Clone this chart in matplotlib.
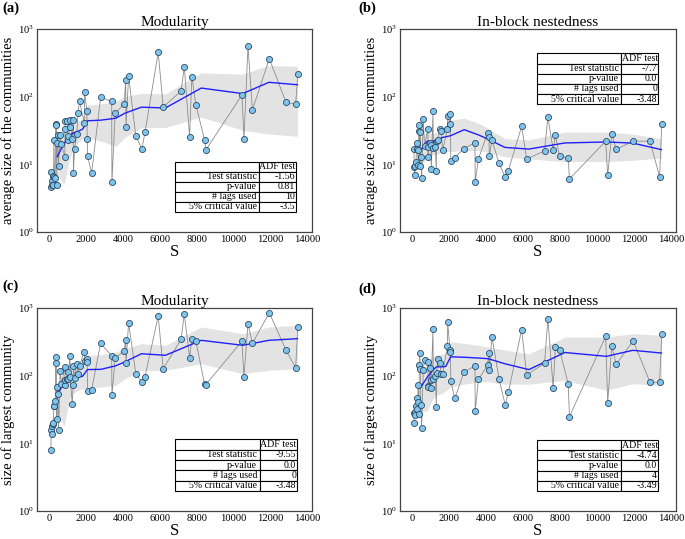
import matplotlib
matplotlib.use("Agg")
import matplotlib.pyplot as plt
from matplotlib.ticker import NullLocator, FixedLocator

plt.rcParams['font.family'] = ['Liberation Serif', 'DejaVu Serif']
plt.rcParams['mathtext.fontset'] = 'stix'

# ---- data: network size S and the four quantities ----
S = [70, 95, 115, 140, 190, 215, 236, 270, 310, 345, 365, 395, 420, 450, 490, 580, 650,
     834, 840, 853, 961, 980, 1016, 1107, 1125, 1234, 1288, 1300, 1360, 1488, 1542, 1633,
     1887, 1905, 2030, 2050, 2070, 2290, 2780, 3380, 3395, 3570, 4060, 4140, 4160, 4300,
     4690, 5020, 5190, 5910, 6180, 7150, 7330, 7615, 7740, 7960, 8430, 8500, 10460, 10570,
     10790, 11030, 11950, 12860, 13380, 13500]

avg_mod = [7.7, 4.7, 5.6, 5.0, 6.8, 4.9, 23, 6.5, 6.3, 40, 38.6, 4.9, 21, 27.4, 9.4, 27, 20,
           12.7, 33, 43.6, 43.6, 23, 26, 35.6, 44.6, 24, 45, 7.4, 17, 28, 58, 85,
           41, 119, 62, 23.4, 13.1, 7.45, 98, 85, 5.5, 57, 78, 178, 35.6, 202,
           26.5, 16.7, 29.7, 452, 70, 121, 277, 25.6, 198, 75, 23, 16.3, 106, 23.7,
           561, 63.5, 365, 82, 77, 214]

avg_nest = [16.9, 9.0, 7.0, 9.5, 10.7, 20.6, 17, 16.5, 9.8, 38.5, 30.8, 9.4, 30, 12.7, 6.2, 46.7, 18.5,
            33.7, 13, 18, 21, 19, 8.5, 60.7, 17.4, 18.2, 8.1, 22, 23, 33, 31, 16.1,
            33.7, 51, 40, 55, 11.3, 12.6, 17, 21, 5.5, 12.1, 29, 25.5, 13.5, 22.6,
            10.3, 6.4, 8.1, 36.5, 12, 15.8, 50, 16.5, 26.8, 13.2, 12.4, 6.1, 22, 6.9,
            28, 16.7, 22, 22, 6.6, 39.5]

max_mod = [7.9, 15.9, 17.8, 13.9, 19.5, 20, 36, 36, 42, 191, 155, 23, 68, 53, 16, 117, 75,
           133, 72, 85, 90, 113, 88, 198, 95, 38, 72, 137, 92, 150, 107, 140,
           224, 165, 176, 160, 59, 62, 300, 197, 51, 182, 231, 341, 153, 608,
           107, 80, 96.5, 759, 127, 344, 810, 184, 352, 320, 75, 74, 324, 96,
           584, 300, 850, 237, 131, 525]

max_nest = [20, 27.7, 29, 26, 36, 32, 47, 41, 74, 27, 145, 216, 125, 37, 17, 121, 170,
            160, 70, 68, 128, 65, 85, 495, 90, 100, 34, 110, 175, 155, 105, 107,
            271, 614, 236, 224, 82, 46, 112, 140, 30, 88, 142, 216, 121, 377,
            88, 37, 57, 479, 103, 152, 695, 66, 268, 242, 76, 24.8, 381, 40,
            277, 147, 329, 80, 80, 418]

# ---- rolling mean and band ----
roll_S = [420, 800, 1090, 1290, 1630, 1800, 2060, 2800, 3600, 4100, 5000, 6300, 8250, 10500, 11930, 13480]

mean_avg_mod = [13, 20.5, 26.6, 29, 31.5, 33, 44, 45, 48, 57, 70, 68, 134, 111, 163, 150]
up_avg_mod = [24, 32, 38, 42, 45, 47, 75, 78, 85, 100, 112, 110, 225, 215, 290, 280]
lo_avg_mod = [7, 5, 12, 17, 22, 24, 25, 22, 18.5, 25, 35, 35, 50, 32, 28, 26]

mean_avg_nest = [16, 22, 22, 22.5, 25, 25.5, 26.5, 32.5, 27, 23.5, 17.8, 16.8, 20.7, 21.4, 20.6, 16.5]
up_avg_nest = [25, 30, 28, 30, 35, 38, 45, 48, 40, 34, 24, 23, 30, 30, 28, 24]
lo_avg_nest = [9, 13, 14, 14, 15, 15.5, 15.5, 16, 16, 15, 13, 12, 11, 11, 11.5, 12.4]

mean_max_mod = [52, 79, 85, 90, 96, 98, 123, 124, 140, 160, 211, 200, 333, 281, 333, 352]
up_max_mod = [76, 105, 120, 130, 140, 150, 200, 205, 224, 250, 297, 281, 524, 417, 524, 555]
lo_max_mod = [28, 18, 45, 55, 62, 65, 64, 68, 72, 90, 120, 120, 150, 107, 120, 127]

mean_max_nest = [66, 95, 120, 135, 135, 137, 190, 187, 182, 178, 150, 123, 220, 193, 237, 216]
up_max_nest = [110, 150, 190, 200, 210, 220, 315, 300, 280, 264, 240, 210, 371, 371, 418, 395]
lo_max_nest = [30, 30, 45, 51, 55, 60, 68, 75, 80, 81, 75, 75, 85, 61, 76, 72]

# ---- ADF tables ----
row_labels = ['Test statistic', 'p-value', '# lags used', '5% critical value']
adf_a = ['-1.56', '0.81', '10', '-3.5']
adf_b = ['-7.7', '0.0', '0', '-3.48']
adf_c = ['-9.55', '0.0', '0', '-3.48']
adf_d = ['-4.74', '0.0', '4', '-3.49']

titles = ['Modularity', 'In-block nestedness', 'Modularity', 'In-block nestedness']
ylabels = ['average size of the communities', 'average size of the communities',
           'size of largest community', 'size of largest community']
letters = ['(a)', '(b)', '(c)', '(d)']

W, H = 685, 539
fig = plt.figure(figsize=(W / 100, H / 100), dpi=100)

def frac(l, t, r, b):
    return [l / W, 1 - b / H, (r - l) / W, (b - t) / H]

rects = [frac(37, 29, 312, 232), frac(400, 29, 676, 232),
         frac(37, 308, 312, 511), frac(400, 308, 676, 511)]
series = [avg_mod, avg_nest, max_mod, max_nest]
means = [mean_avg_mod, mean_avg_nest, mean_max_mod, mean_max_nest]
ups = [up_avg_mod, up_avg_nest, up_max_mod, up_max_nest]
los = [lo_avg_mod, lo_avg_nest, lo_max_mod, lo_max_nest]
adfs = [adf_a, adf_b, adf_c, adf_d]
tab_boxes = [[0.502, 0.099, 0.44, 0.246], [0.496, 0.63, 0.44, 0.25],
             [0.502, 0.099, 0.444, 0.254], [0.496, 0.098, 0.44, 0.252]]
letter_pos = [(2, 8), (358, 8), (2, 286), (358, 289)]

for i in range(4):
    ax = fig.add_axes(rects[i])
    ax.fill_between(roll_S, los[i], ups[i], color='#e3e3e3', lw=0, zorder=1)
    ax.plot(S, series[i], color='#8c8c8c', lw=0.6, zorder=2)
    ax.plot(roll_S, means[i], color='#2020ff', lw=1.0, zorder=3)
    ax.plot(S, series[i], 'o', ms=4.4, mfc='#7ec4ec', mec='#2b4a66', mew=0.6, zorder=4)
    ax.set_yscale('log')
    ax.set_ylim(1, 1000)
    ax.set_xlim(-680, 14270)
    ax.yaxis.set_major_locator(FixedLocator([1, 10, 100, 1000]))
    ax.yaxis.set_minor_locator(NullLocator())
    ax.set_xticks([0, 2000, 4000, 6000, 8000, 10000, 12000, 14000])
    ax.tick_params(axis='both', length=0, pad=2.5, labelsize=7.6)
    for sp in ax.spines.values():
        sp.set_color('#444444')
        sp.set_linewidth(0.9)
    ax.set_title(titles[i], fontsize=11, pad=2)
    ax.set_ylabel(ylabels[i], fontsize=10.5, labelpad=2)
    ax.set_xlabel('S', fontsize=12, labelpad=0)

    cell = [[lab, v] for lab, v in zip(row_labels, adfs[i])]
    bx = tab_boxes[i]
    tb = ax.table(cellText=cell, colLabels=['', 'ADF test'], cellLoc='right',
                  colWidths=[0.694, 0.306], bbox=bx, zorder=6)
    tb.auto_set_font_size(False)
    tb.set_fontsize(7.1)
    for (r, c), cl in tb.get_celld().items():
        cl.set_edgecolor('black')
        cl.set_linewidth(0.8)
        cl.set_facecolor('white')
        cl.PAD = 0.03
        cl.get_text().set_fontfamily(['Liberation Serif'])

    lx, ly = letter_pos[i]
    fig.text(lx / W, 1 - ly / H, letters[i], fontsize=10.5, fontweight='bold',
             va='center', ha='left')

fig.savefig('out.png', dpi=100)
